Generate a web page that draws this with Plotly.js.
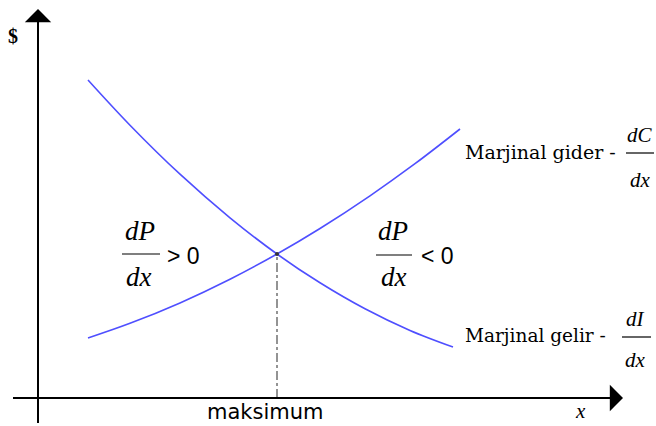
<!DOCTYPE html>
<html><head><meta charset="utf-8">
<script src="https://cdn.plot.ly/plotly-3.0.1.min.js"></script>
<style>html,body{margin:0;padding:0;background:#fff}</style>
</head><body><div id="chart" style="width:656px;height:426px"></div>
<script>
// Marginal cost curve (rising)
const costX = [50, 92, 142, 192, 239, 282, 332, 377, 422];
const costY = [60, 74.7, 95.1, 118.8, 144, 169.5, 202.2, 234.3, 269];
// Marginal revenue curve (falling)
const revX = [50, 92, 142, 192, 239, 282, 327, 372, 415];
const revY = [318, 272.8, 223.8, 180.2, 144, 115.2, 89.2, 67.5, 50.9];
// Maximum point
const maxX = [239];
const maxY = [144];
const labels = {
  yAxis: "$", xAxis: "x", maximum: "maksimum",
  cost: "Marjinal gider -", revenue: "Marjinal gelir -",
  costNum: "dC", revNum: "dI", den: "dx", dP: "dP", gt: "&gt; 0", lt: "&lt; 0"
};

const blue = "#4f4fff";
const traces = [
  {x: costX, y: costY, mode: "lines", line: {color: blue, width: 1.6, shape: "spline"}, hoverinfo: "skip"},
  {x: revX, y: revY, mode: "lines", line: {color: blue, width: 1.6, shape: "spline"}, hoverinfo: "skip"},
  {x: [maxX[0], maxX[0]], y: [0, maxY[0]], mode: "lines", line: {color: "#888", width: 1.8, dash: "dashdot"}, hoverinfo: "skip"},
  {x: maxX, y: maxY, mode: "markers", marker: {color: "#333", size: 4}, hoverinfo: "skip"}
];

const serif = "Liberation Serif";
const wserif = "DejaVu Serif";
const sans = "DejaVu Sans";
function t(x, y, text, size, fam, extra) {
  return Object.assign({x: x, y: y, xref: "x", yref: "y", text: text, showarrow: false,
    font: {family: fam, size: size, color: "#000"}, xanchor: "center", yanchor: "middle"}, extra || {});
}
const ann = [
  // axes arrows
  {x: 0, y: 389, ax: 0, ay: 350, xref: "x", yref: "y", axref: "x", ayref: "y", showarrow: true,
   arrowhead: 1, arrowsize: 2.2, arrowwidth: 2, arrowcolor: "#000", text: ""},
  {x: 585, y: 0, ax: 540, ay: 0, xref: "x", yref: "y", axref: "x", ayref: "y", showarrow: true,
   arrowhead: 1, arrowsize: 2.2, arrowwidth: 2, arrowcolor: "#000", text: ""},
  t(-25, 362, labels.yAxis, 20, serif, {font: {family: serif, size: 20, color: "#000", weight: "bold"}}),
  t(542, -13, "<i>" + labels.xAxis + "</i>", 21, serif),
  t(227, -14, labels.maximum, 21, sans),
  t(580, 246, labels.cost, 19, wserif, {xanchor: "right"}),
  t(602, 263, "<i>" + labels.costNum + "</i>", 21, serif),
  t(602, 218, "<i>" + labels.den + "</i>", 21, serif),
  t(570, 63, labels.revenue, 18.5, wserif, {xanchor: "right"}),
  t(597, 79, "<i>" + labels.revNum + "</i>", 21, serif),
  t(597, 38, "<i>" + labels.den + "</i>", 21, serif),
  t(102, 167, "<i>" + labels.dP + "</i>", 27, serif),
  t(101, 121, "<i>" + labels.den + "</i>", 27, serif),
  t(145, 142, labels.gt, 23, "Liberation Sans"),
  t(355, 167, "<i>" + labels.dP + "</i>", 27, serif),
  t(356, 121, "<i>" + labels.den + "</i>", 27, serif),
  t(399, 142, labels.lt, 23, "Liberation Sans")
];

const shapes = [
  {type: "line", xref: "x", yref: "y", x0: 0, x1: 0, y0: -25, y1: 370, line: {color: "#000", width: 2}},
  {type: "line", xref: "x", yref: "y", x0: -25, x1: 560, y0: 0, y1: 0, line: {color: "#000", width: 2}},
  // fraction bars
  {type: "line", xref: "x", yref: "y", x0: 588, x1: 616, y0: 245, y1: 245, line: {color: "#000", width: 1.2}},
  {type: "line", xref: "x", yref: "y", x0: 584, x1: 613, y0: 61, y1: 61, line: {color: "#000", width: 1.2}},
  {type: "line", xref: "x", yref: "y", x0: 84, x1: 122, y0: 144, y1: 144, line: {color: "#000", width: 1.2}},
  {type: "line", xref: "x", yref: "y", x0: 338, x1: 374, y0: 143, y1: 143, line: {color: "#000", width: 1.2}}
];

const layout = {
  width: 656, height: 426, margin: {l: 0, r: 0, t: 0, b: 0},
  paper_bgcolor: "#fff", plot_bgcolor: "#fff", showlegend: false,
  xaxis: {range: [-38, 618], visible: false, fixedrange: true},
  yaxis: {range: [-28, 398], visible: false, fixedrange: true},
  annotations: ann, shapes: shapes
};
Plotly.newPlot("chart", traces, layout, {staticPlot: true, displayModeBar: false});
</script></body></html>
